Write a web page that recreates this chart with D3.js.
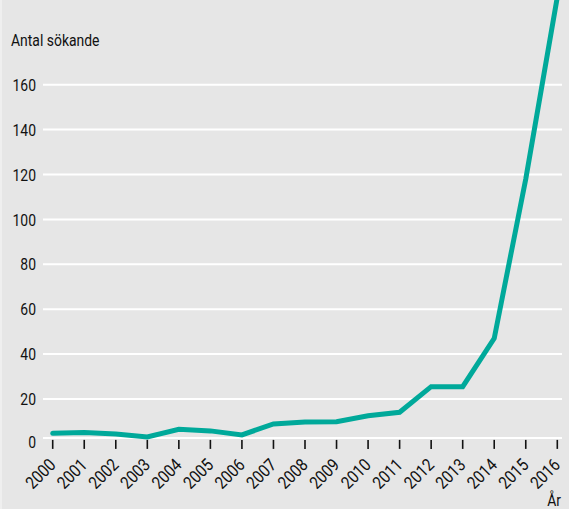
<!DOCTYPE html>
<html>
<head>
<meta charset="utf-8">
<script src="https://cdn.jsdelivr.net/npm/d3@7"></script>
<style>
    html, body { margin: 0; padding: 0; background: #e6e6e6; }
    svg { display: block; }
</style>
</head>
<body>
<svg id="chart"></svg>
<script>
// Data
const years = ['2000', '2001', '2002', '2003', '2004', '2005', '2006', '2007', '2008',
    '2009', '2010', '2011', '2012', '2013', '2014', '2015', '2016'];
const applicants = [4.7, 5.1, 4.4, 3.1, 6.5, 5.8, 4.0, 8.9, 9.8,
    9.9, 12.5, 14.1, 25.5, 25.5, 47, 118, 199];
const yTicks = [0, 20, 40, 60, 80, 100, 120, 140, 160];

const COLORS = {
    bg: '#e6e6e6',
    grid: '#ffffff',
    ink: '#111111',
    line: '#00a99a',
};
const FONT = 'Roboto, "Noto Sans", sans-serif';
const SQUEEZE = 0.82; // the reference uses a condensed face

const width = 569;
const height = 509;

const svg = d3.select('#chart')
    .attr('width', width)
    .attr('height', height);

svg.append('rect')
    .attr('width', width)
    .attr('height', height)
    .attr('fill', COLORS.bg);
svg.append('rect')
    .attr('width', 2)
    .attr('height', height)
    .attr('fill', '#efefef');

const x = d3.scalePoint().domain(years).range([52.7, 557.3]);
const y = d3.scaleLinear().domain([0, 160]).range([443.9, 84.7]);

// gridlines (0 is the baseline, drawn a bit higher)
svg.append('g')
    .selectAll('line')
    .data(yTicks.filter((d) => d > 0))
    .enter()
    .append('line')
    .attr('x1', 43)
    .attr('x2', 562)
    .attr('y1', (d) => y(d))
    .attr('y2', (d) => y(d))
    .attr('stroke', COLORS.grid)
    .attr('stroke-width', 2);

const baseY = y(0) - 6;
svg.append('line')
    .attr('x1', 43)
    .attr('x2', 562)
    .attr('y1', baseY)
    .attr('y2', baseY)
    .attr('stroke', COLORS.grid)
    .attr('stroke-width', 2);

// y labels
svg.append('g')
    .selectAll('text')
    .data(yTicks)
    .enter()
    .append('text')
    .attr('transform', (d) => `translate(36, ${d === 0 ? y(d) - 2 : y(d)}) scale(${SQUEEZE}, 1)`)
    .attr('dy', '0.36em')
    .attr('text-anchor', 'end')
    .attr('font-family', FONT)
    .attr('font-size', 17)
    .attr('fill', COLORS.ink)
    .text((d) => d);

svg.append('text')
    .attr('transform', `translate(11, 46) scale(${SQUEEZE}, 1)`)
    .attr('font-family', FONT)
    .attr('font-size', 17)
    .attr('fill', COLORS.ink)
    .text('Antal sökande');

// x ticks
svg.append('g')
    .selectAll('line')
    .data(years)
    .enter()
    .append('line')
    .attr('x1', (d) => x(d))
    .attr('x2', (d) => x(d))
    .attr('y1', baseY + 2)
    .attr('y2', baseY + 11)
    .attr('stroke', COLORS.ink)
    .attr('stroke-width', 1.6);

svg.append('g')
    .selectAll('text')
    .data(years)
    .enter()
    .append('text')
    .attr('transform', (d) => `translate(${x(d) + 4}, 466) rotate(-45) scale(0.86, 1)`)
    .attr('text-anchor', 'end')
    .attr('font-family', FONT)
    .attr('font-size', 17.5)
    .attr('fill', COLORS.ink)
    .text((d) => d);

svg.append('text')
    .attr('transform', `translate(561, 506) scale(${SQUEEZE}, 1)`)
    .attr('text-anchor', 'end')
    .attr('font-family', FONT)
    .attr('font-size', 17)
    .attr('fill', COLORS.ink)
    .text('År');

// the line
const line = d3.line()
    .x((d, i) => x(years[i]))
    .y((d) => y(d));

svg.append('path')
    .datum(applicants)
    .attr('d', line)
    .attr('fill', 'none')
    .attr('stroke', COLORS.line)
    .attr('stroke-width', 5)
    .attr('stroke-linejoin', 'miter')
    .attr('stroke-linecap', 'round');
</script>
</body>
</html>
